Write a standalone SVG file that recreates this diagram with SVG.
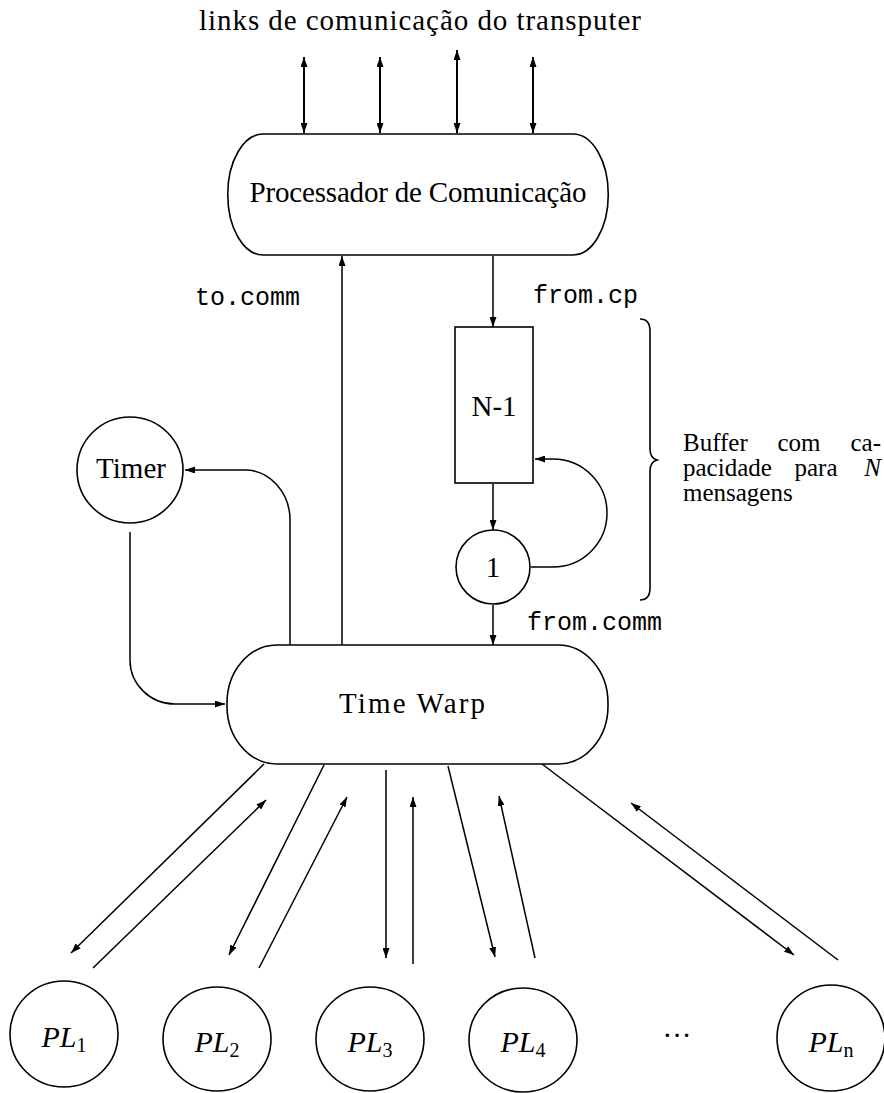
<svg xmlns="http://www.w3.org/2000/svg" width="884" height="1093" viewBox="0 0 884 1093">
  <defs>
    <marker id="ah" viewBox="0 0 10 7" refX="10" refY="3.5" markerWidth="10" markerHeight="7" markerUnits="userSpaceOnUse" orient="auto-start-reverse">
      <path d="M0,0 L10,3.5 L0,7 z" fill="#000"/>
    </marker>
    <style>
      .shape { fill: none; stroke: #000; stroke-width: 1.6; }
      .conn { fill: none; stroke: #000; stroke-width: 1.5; }
      .arr { marker-end: url(#ah); }
      .both { marker-start: url(#ah); marker-end: url(#ah); stroke-width: 2; }
      .rm { font-family: "Liberation Serif", "DejaVu Serif", serif; font-size: 29px; fill: #000; }
      .tt { font-family: "Liberation Mono", "DejaVu Sans Mono", monospace; font-size: 25px; fill: #000; }
      .it { font-family: "Liberation Serif", "DejaVu Serif", serif; font-style: italic; font-size: 30px; fill: #000; }
      .sub { font-style: normal; font-size: 20px; }
      .note { font-family: "Liberation Serif", "DejaVu Serif", serif; font-size: 25px; fill: #000; }
    </style>
  </defs>

  <rect width="884" height="1093" fill="#fff"/>

  <!-- heading over the external links -->
  <text class="rm" x="420" y="30" font-size="30" text-anchor="middle" textLength="442">links de comunicação do transputer</text>

  <!-- connectors -->
  <g id="connectors">
    <!-- transputer links (bidirectional) -->
    <line class="conn both" x1="304" y1="57" x2="304" y2="133"/>
    <line class="conn both" x1="380" y1="57" x2="380" y2="133"/>
    <line class="conn both" x1="457" y1="50" x2="457" y2="133"/>
    <line class="conn both" x1="533" y1="57" x2="533" y2="133"/>

    <!-- to.comm -->
    <line class="conn arr" x1="342" y1="645" x2="342" y2="256"/>
    <!-- from.cp -->
    <line class="conn arr" x1="493" y1="256" x2="493" y2="327"/>
    <!-- buffer N-1 to single slot -->
    <line class="conn arr" x1="493" y1="484" x2="493" y2="530"/>
    <!-- from.comm -->
    <line class="conn arr" x1="493" y1="605" x2="493" y2="645"/>
    <!-- feedback from slot to buffer -->
    <path class="conn arr" d="M531,567 H553 A54,54 0 0 0 553,459 H535"/>
    <!-- Time Warp to Timer -->
    <path class="conn arr" d="M290,645 V520 A45,50 0 0 0 245,470 H185"/>
    <!-- Timer to Time Warp -->
    <path class="conn arr" d="M130,532 V660 A45,44 0 0 0 175,704 H225"/>

    <!-- Time Warp to logical processes -->
    <line class="conn arr" x1="264" y1="764" x2="71" y2="953"/>
    <line class="conn arr" x1="324" y1="765" x2="229" y2="955"/>
    <line class="conn arr" x1="386" y1="770" x2="386" y2="958"/>
    <line class="conn arr" x1="448" y1="766" x2="495" y2="957"/>
    <line class="conn arr" x1="542" y1="764" x2="794" y2="955"/>

    <!-- logical processes to Time Warp -->
    <line class="conn arr" x1="93" y1="968" x2="266" y2="800"/>
    <line class="conn arr" x1="259" y1="968" x2="347" y2="797"/>
    <line class="conn arr" x1="413" y1="964" x2="413" y2="797"/>
    <line class="conn arr" x1="535" y1="958" x2="499" y2="796"/>
    <line class="conn arr" x1="838" y1="960" x2="631" y2="803"/>
  </g>

  <!-- channel labels -->
  <text class="tt" x="195" y="305">to.comm</text>
  <text class="tt" x="533" y="303">from.cp</text>
  <text class="tt" x="527" y="630">from.comm</text>

  <g id="comm-processor">
    <path class="shape" d="M263,134 H573 A35,60 0 0 1 573,255 H263 A35,60 0 0 1 263,134 Z"/>
    <text class="rm" x="418" y="202" text-anchor="middle" textLength="337">Processador de Comunicação</text>
  </g>

  <g id="buffer">
    <rect class="shape" x="455" y="327" width="78" height="156"/>
    <text class="rm" x="494" y="416" text-anchor="middle">N-1</text>
  </g>

  <g id="slot">
    <circle class="shape" cx="493" cy="567" r="37"/>
    <text class="rm" x="493" y="577" text-anchor="middle">1</text>
  </g>

  <g id="buffer-note">
    <path class="shape" stroke-width="2" d="M640,319 Q650,319 650,331 V449 Q650,458 657,460 Q650,462 650,471 V588 Q650,600 640,600"/>
    <!-- justified paragraph: words placed individually -->
    <text class="note" x="683" y="451">Buffer</text>
    <text class="note" x="799" y="451" text-anchor="middle">com</text>
    <text class="note" x="881" y="451" text-anchor="end">ca-</text>
    <text class="note" x="683" y="476">pacidade</text>
    <text class="note" x="816" y="476" text-anchor="middle">para</text>
    <text class="note" x="881" y="476" text-anchor="end" font-style="italic">N</text>
    <text class="note" x="683" y="501">mensagens</text>
  </g>

  <g id="timer">
    <circle class="shape" cx="130" cy="470" r="53"/>
    <text class="rm" x="131" y="478" text-anchor="middle">Timer</text>
  </g>

  <g id="time-warp">
    <path class="shape" d="M277,645 H558 A50,58 0 0 1 608,703 V706 A50,58 0 0 1 558,764 H277 A50,58 0 0 1 227,706 V703 A50,58 0 0 1 277,645 Z"/>
    <text class="rm" x="412" y="713" font-size="32" text-anchor="middle" textLength="146">Time Warp</text>
  </g>

  <g id="pl1">
    <ellipse class="shape" cx="64" cy="1034" rx="54" ry="53"/>
    <text class="it" x="64" y="1047" text-anchor="middle">PL<tspan class="sub" dy="5">1</tspan></text>
  </g>
  <g id="pl2">
    <ellipse class="shape" cx="217" cy="1039" rx="54" ry="52"/>
    <text class="it" x="217" y="1052" text-anchor="middle">PL<tspan class="sub" dy="5">2</tspan></text>
  </g>
  <g id="pl3">
    <ellipse class="shape" cx="370" cy="1039" rx="54" ry="52"/>
    <text class="it" x="370" y="1052" text-anchor="middle">PL<tspan class="sub" dy="5">3</tspan></text>
  </g>
  <g id="pl4">
    <ellipse class="shape" cx="523" cy="1040" rx="54" ry="52"/>
    <text class="it" x="523" y="1052" text-anchor="middle">PL<tspan class="sub" dy="5">4</tspan></text>
  </g>
  <text class="rm" x="677" y="1045" text-anchor="middle">···</text>
  <g id="pln">
    <ellipse class="shape" cx="831" cy="1038" rx="54" ry="53"/>
    <text class="it" x="831" y="1052" text-anchor="middle">PL<tspan class="sub" dy="5" font-style="italic">n</tspan></text>
  </g>
</svg>
